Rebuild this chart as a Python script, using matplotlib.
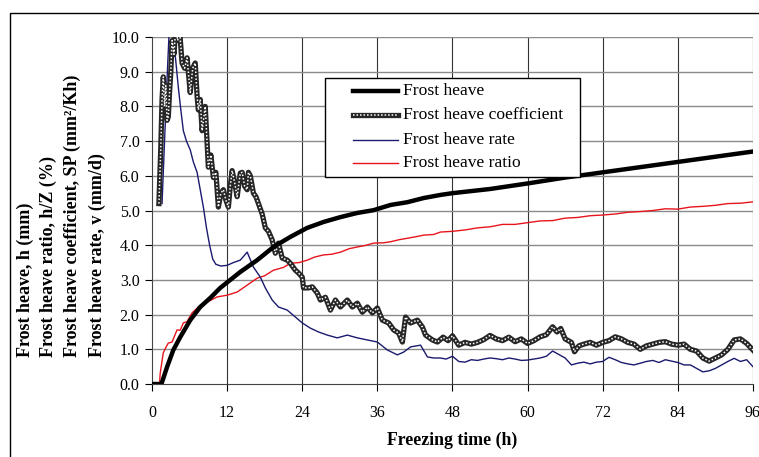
import numpy as np
import matplotlib
matplotlib.use('Agg')
import matplotlib.pyplot as plt
from matplotlib.patches import Rectangle

plt.rcParams['font.family'] = ['Liberation Serif', 'DejaVu Serif']

# Frost heave, h (mm)
heave_t = [0, 1.5, 2.4, 3.4, 4.5, 6.1, 7.7, 9.3, 10.9, 12.5, 14.1, 16.8, 19.4, 22.1, 24.8,
           27.4, 30.1, 32.8, 35.4, 38.1, 40.8, 43.4, 46.1, 48, 54, 60, 66, 72, 78, 84, 90, 96]
heave_v = [0, 0, 0.49, 0.98, 1.35, 1.84, 2.22, 2.48, 2.77, 3.0, 3.23, 3.57, 3.95, 4.24, 4.5,
           4.67, 4.81, 4.93, 5.01, 5.16, 5.24, 5.36, 5.45, 5.5, 5.62, 5.78, 5.95, 6.1, 6.25, 6.4, 6.55, 6.7]

# Frost heave ratio, h/Z (%)
ratio_t = [0, 1.2, 1.3, 1.8, 2.2, 2.6, 3.2, 4.0, 4.5, 5.0, 5.6, 6.4, 7.4, 8.8, 10.4, 12.0, 13.6,
           15.2, 16.8, 18.0, 19.4, 21.0, 22.1, 23.5, 24.8, 26.0, 27.4, 28.7, 30.1, 31.5, 32.8, 34.0,
           35.4, 37.0, 38.1, 39.5, 40.8, 42.0, 43.4, 45.0, 46.1, 48, 50, 52, 54, 56, 58, 60, 62, 64,
           66, 68, 70, 72, 74, 76, 78, 80, 82, 84, 86, 88, 90, 92, 94, 96]
ratio_v = [0, 0, 0.3, 0.9, 1.05, 1.18, 1.21, 1.56, 1.55, 1.76, 1.8, 2.05, 2.22, 2.36, 2.51, 2.56, 2.65,
           2.85, 3.05, 3.12, 3.28, 3.36, 3.48, 3.5, 3.57, 3.66, 3.72, 3.74, 3.8, 3.9, 3.95, 3.99,
           4.06, 4.07, 4.1, 4.16, 4.2, 4.24, 4.29, 4.31, 4.38, 4.4, 4.44, 4.5, 4.53, 4.6, 4.6, 4.65, 4.7, 4.71,
           4.78, 4.8, 4.85, 4.87, 4.9, 4.95, 4.97, 5.0, 5.05, 5.04, 5.1, 5.12, 5.15, 5.2, 5.21, 5.25]

# Frost heave coefficient, SP (mm2/Kh)
coef_t = [1.1, 1.4, 1.6, 1.8, 2.0, 2.2, 2.4, 2.6, 2.8, 3.0, 3.2, 3.5, 3.8, 4.1, 4.4, 4.8, 5.2, 5.6,
          6.1, 6.5, 6.9, 7.2, 7.4, 7.7, 8.0, 8.5, 9.0, 9.4, 9.8, 10.2, 10.6, 11.0, 11.4, 11.8, 12.2,
          12.5, 12.8, 13.2, 13.6, 14.1, 14.4, 14.8, 15.2, 15.4, 15.7, 16.2, 16.6, 17.0, 17.6, 18.1,
          18.6, 19.2, 19.7, 20.2, 20.8, 21.6, 22.1, 22.9, 23.4, 24.0, 24.2, 25.0, 25.6, 26.4, 26.9,
          27.7, 28.5, 29.3, 30.1, 31.2, 32.0, 32.8, 33.6, 34.4, 35.2, 36.0, 36.8, 37.8, 38.6, 39.4,
          40.0, 40.5, 41.3, 42.4, 43.2, 43.7, 44.8, 45.6, 46.5, 47.3, 48, 49, 50, 51, 52, 53, 54, 55,
          56, 57, 58, 59, 60, 61, 62, 63, 64, 64.7, 65.3, 66, 67, 67.5, 68.2, 69, 70, 71, 72, 73, 74,
          75, 76, 77, 78, 79, 80, 81, 82, 83, 84, 85, 86, 87, 88, 89, 90, 91, 92, 93, 94, 95, 96]
coef_v = [5.2, 6.8, 8.2, 8.85, 8.0, 8.6, 7.6, 7.7, 8.4, 9.0, 9.9, 9.5, 10.3, 9.9, 10.2, 9.25, 9.1, 9.4,
          8.4, 9.1, 9.25, 8.3, 7.9, 8.2, 7.3, 8.0, 6.25, 6.6, 5.95, 6.1, 5.1, 5.5, 5.6, 5.3, 5.1,
          5.7, 6.15, 5.8, 5.4, 6.08, 6.1, 5.7, 5.6, 6.1, 6.0, 5.5, 5.4, 5.2, 4.9, 4.5,
          4.4, 4.15, 3.77, 4.06, 3.63, 3.57, 3.48, 3.28, 3.2, 3.08, 2.77, 2.77, 2.8, 2.62, 2.42,
          2.5, 2.13, 2.42, 2.22, 2.42, 2.22, 2.33, 2.07, 2.22, 2.05, 2.19, 1.84, 1.76, 1.56, 1.47,
          1.21, 1.93, 1.76, 1.84, 1.64, 1.41, 1.27, 1.21, 1.35, 1.25, 1.39, 1.12, 1.2, 1.15, 1.2, 1.28, 1.4, 1.3,
          1.25, 1.35, 1.22, 1.3, 1.17, 1.25, 1.36, 1.42, 1.65, 1.5, 1.6, 1.3, 1.2, 0.93, 1.1, 1.15, 1.2, 1.12, 1.2, 1.25, 1.36,
          1.3, 1.2, 1.15, 1.0, 1.1, 1.15, 1.2, 1.22, 1.15, 1.12, 1.15, 1.0, 0.95, 0.75, 0.66, 0.75, 0.84, 1.0, 1.27, 1.3, 1.17, 0.98]

# Frost heave rate, v (mm/d)
rate_t = [1.6, 2.0, 2.4, 2.7, 3.0, 3.4, 3.8, 4.2, 4.6, 5.0, 5.5, 6.1, 6.6, 7.2, 7.7, 8.2, 8.7, 9.2,
          9.7, 10.2, 11, 12, 13, 14.1, 15.2, 16.2, 17.3, 18.1, 19.2, 20.2, 21.6, 22.9, 24, 25.3,
          26.6, 28, 29.6, 31.2, 32.8, 34.4, 36, 37.6, 39.2, 40.2, 41.3, 42.9, 44, 45,
          46, 47, 48, 49, 50, 51, 52, 53, 54, 55, 56, 57, 58, 59, 60, 61, 62, 63, 64, 65,
          66, 67, 68, 69, 70, 71, 72, 73, 74, 75, 76, 77, 78, 79, 80, 81, 82, 83, 84, 85,
          86, 87, 88, 89, 90, 91, 92, 93, 94, 95, 96]
rate_v = [5.2, 7.0, 8.8, 10.0, 10.4, 10.0, 9.3, 8.55, 7.9, 7.3, 7.0, 6.75, 6.4, 6.1, 5.6, 5.1, 4.5, 4.0,
          3.6, 3.45, 3.4, 3.42, 3.5, 3.57, 3.8, 3.37, 3.08, 2.77, 2.42, 2.22, 2.13, 1.93, 1.76, 1.61,
          1.5, 1.41, 1.33, 1.41, 1.33, 1.27, 1.21, 0.98, 0.84, 0.92, 1.07, 1.12, 0.78, 0.75,
          0.75, 0.72, 0.8, 0.65, 0.63, 0.7, 0.68, 0.72, 0.75, 0.73, 0.7, 0.75, 0.72, 0.68, 0.69, 0.72, 0.75, 0.8, 0.95, 0.85,
          0.75, 0.55, 0.6, 0.63, 0.58, 0.63, 0.65, 0.77, 0.7, 0.62, 0.58, 0.55, 0.6, 0.65, 0.68, 0.62, 0.7, 0.66, 0.62, 0.55,
          0.55, 0.45, 0.35, 0.38, 0.45, 0.55, 0.65, 0.74, 0.65, 0.7, 0.5]

x_ticks = [0, 12, 24, 36, 48, 60, 72, 84, 96]
y_ticks = [0, 1, 2, 3, 4, 5, 6, 7, 8, 9, 10]

fig = plt.figure(figsize=(7.59, 4.57), dpi=100)
ax = fig.add_axes([0.2003, 0.1597, 0.7917, 0.7593])

# outer chart border (right and bottom edges lie outside the picture)
fig.patches.append(Rectangle((10 / 759, -0.1), 1.2, 1 - 13 / 457 + 0.1, transform=fig.transFigure,
                             fill=False, edgecolor='black', linewidth=1.0))

for x in x_ticks[1:]:
    ax.axvline(x, color='#333333', linewidth=0.8, zorder=0)
for y in y_ticks[1:]:
    ax.axhline(y, color='#8a8a8a', linewidth=1.0, zorder=0)

ax.plot(ratio_t, ratio_v, color='#e8141c', linewidth=1.0, zorder=3)
ax.plot(rate_t, rate_v, color='#1a1a6e', linewidth=1.0, zorder=3)
ax.plot(coef_t, coef_v, color='#262626', linewidth=3.8, zorder=4)
ax.plot(coef_t, coef_v, color='white', linewidth=1.1, linestyle=(0, (1, 1.3)), zorder=5)
ax.plot(heave_t, heave_v, color='black', linewidth=3.2, zorder=6)

ax.set_xlim(0, 96)
ax.set_ylim(0, 10)
ax.set_xticks(x_ticks)
ax.set_yticks(y_ticks)
ax.set_yticklabels(['%.1f' % v for v in y_ticks])
ax.tick_params(direction='out', length=5, width=0.8, labelsize=11.5, pad=4)
ax.tick_params(axis='x', pad=10)
for s in ['top', 'right']:
    ax.spines[s].set_visible(False)
ax.spines['left'].set_color('#444444')
ax.spines['bottom'].set_color('#444444')

ax.set_xlabel('Freezing time (h)', fontsize=12.8, fontweight='bold', labelpad=8)

ylabels = ['Frost heave, h (mm)', 'Frost heave ratio, h/Z (%)',
           'Frost heave coefficient, SP (mm²/Kh)', 'Frost heave rate, v (mm/d)']
for xp, txt in zip([25, 48, 72, 97], ylabels):
    fig.text(xp / 759, 1 - 357 / 457, txt, rotation=90, ha='center', va='bottom',
             fontsize=13, fontweight='bold')

# legend box
fig.add_artist(Rectangle((325 / 759, 1 - 177 / 457), (580 - 325) / 759, (177 - 78) / 457,
                         transform=fig.transFigure, facecolor='white', edgecolor='black',
                         linewidth=1.0, zorder=10))
rows = [91, 115, 140, 163]
names = ['Frost heave', 'Frost heave coefficient', 'Frost heave rate', 'Frost heave ratio']
for yp, name, i in zip(rows, names, range(4)):
    yf = 1 - yp / 457
    xs = [353 / 759, 398 / 759]
    if i == 0:
        fig.add_artist(plt.Line2D(xs, [yf, yf], color='black', linewidth=3.2, zorder=11))
    elif i == 1:
        fig.add_artist(plt.Line2D(xs, [yf, yf], color='#262626', linewidth=3.8, zorder=11))
        fig.add_artist(plt.Line2D(xs, [yf, yf], color='white', linewidth=1.1,
                                  linestyle=(0, (1, 1.3)), zorder=12))
    elif i == 2:
        fig.add_artist(plt.Line2D(xs, [yf, yf], color='#1a1a6e', linewidth=1.0, zorder=11))
    else:
        fig.add_artist(plt.Line2D(xs, [yf, yf], color='#e8141c', linewidth=1.0, zorder=11))
    fig.text(403 / 759, yf, name, ha='left', va='center', fontsize=12.6, zorder=12)

fig.savefig('out.png', dpi=100)
